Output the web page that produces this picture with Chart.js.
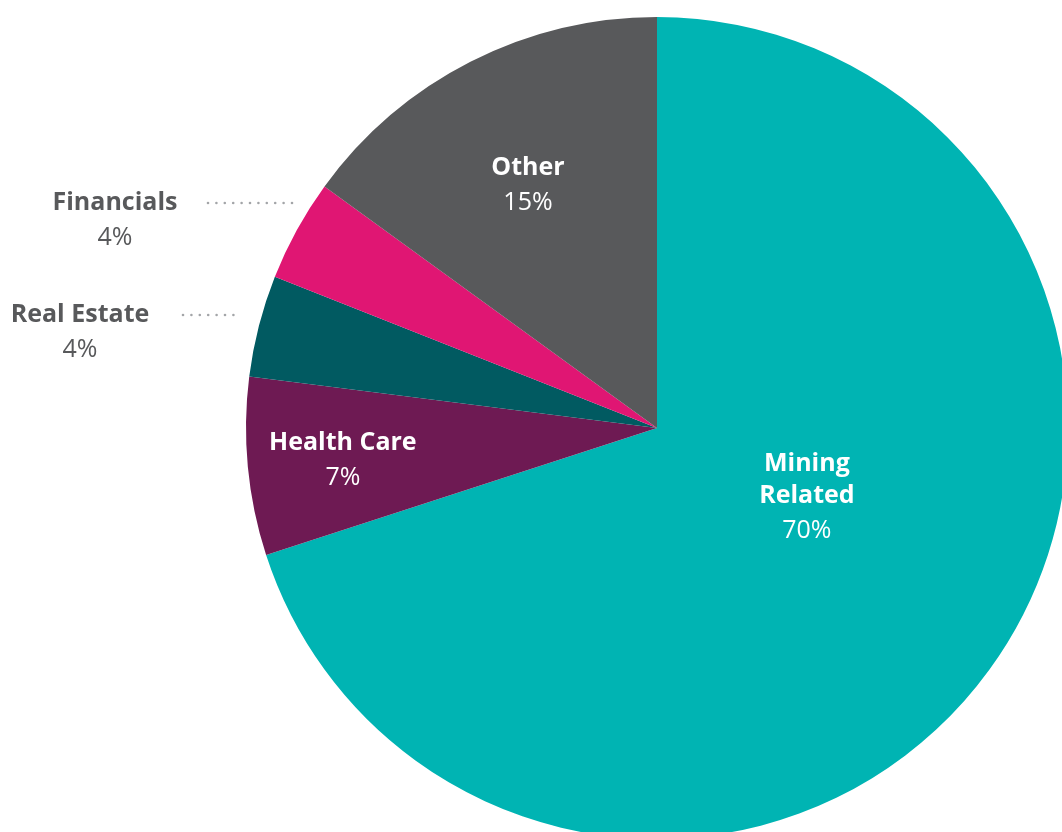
<!DOCTYPE html>
<html>
<head>
<meta charset="utf-8">
<script src="https://cdn.jsdelivr.net/npm/chart.js@4"></script>
<style>
  html, body { margin: 0; padding: 0; background: #fff; overflow: hidden; }
  #wrap { position: absolute; left: 0; top: 0; width: 1314px; height: 856px; }
</style>
</head>
<body>
<div id="wrap"><canvas id="sectorChart"></canvas></div>
<script>
// sector weights, clockwise from 12 o'clock
const sectors = ['Mining Related', 'Health Care', 'Real Estate', 'Financials', 'Other'];
const weights = [70, 7, 4, 4, 15];
const sectorColors = ['#00b4b3', '#6e1a53', '#015a61', '#e01673', '#58595b'];

// label placement: inside (polar offset of first line from center) or outside (left, with dotted leader)
const labelSpots = [
    { lines: ['Mining', 'Related'], inside: true, angle: 102.8, r: 0.374 },
    { lines: ['Health Care'], inside: true, angle: 267.6, r: 0.765 },
    { lines: ['Real Estate'], inside: false, textX: 80, y: 313, dotFrom: 183, dotTo: 238 },
    { lines: ['Financials'], inside: false, textX: 115, y: 201, dotFrom: 208, dotTo: 292 },
    { lines: ['Other'], inside: true, angle: 333.8, r: 0.711 }
];

const FONT = '"Open Sans", "Noto Sans", sans-serif';

const sliceLabels = {
    id: 'sliceLabels',
    afterDatasetsDraw(chart) {
        const ctx = chart.ctx;
        const arcs = chart.getDatasetMeta(0).data;
        ctx.save();
        ctx.textAlign = 'center';
        ctx.textBaseline = 'middle';
        arcs.forEach((arc, i) => {
            const spot = labelSpots[i];
            const pct = weights[i] + '%';
            let x, y, color;
            if (spot.inside) {
                const a = spot.angle * Math.PI / 180;
                const rr = arc.outerRadius * spot.r;
                x = arc.x + Math.sin(a) * rr;
                y = arc.y - Math.cos(a) * rr;
                color = '#ffffff';
            } else {
                x = spot.textX;
                y = spot.y;
                color = '#58595b';
                // dotted leader
                ctx.fillStyle = '#a3a5a8';
                for (let dx = spot.dotFrom; dx <= spot.dotTo; dx += 8.4) {
                    ctx.beginPath();
                    ctx.arc(dx, y + 2, 1.3, 0, Math.PI * 2);
                    ctx.fill();
                }
            }
            y += 2;
            ctx.fillStyle = color;
            ctx.font = 'bold 25px ' + FONT;
            spot.lines.forEach((ln, k) => {
                ctx.fillText(ln, x, y + k * 32);
            });
            ctx.font = '25px ' + FONT;
            ctx.fillText(pct, x, y + (spot.lines.length - 1) * 32 + 35);
        });
        ctx.restore();
    }
};

new Chart(document.getElementById('sectorChart'), {
    type: 'pie',
    data: {
        labels: sectors,
        datasets: [{
            data: weights,
            backgroundColor: sectorColors,
            borderWidth: 0
        }]
    },
    options: {
        responsive: true,
        maintainAspectRatio: false,
        animation: false,
        layout: { padding: { top: 17, bottom: 17, left: 0, right: 0 } },
        plugins: {
            legend: { display: false },
            tooltip: { enabled: false }
        }
    },
    plugins: [sliceLabels]
});
</script>
</body>
</html>
